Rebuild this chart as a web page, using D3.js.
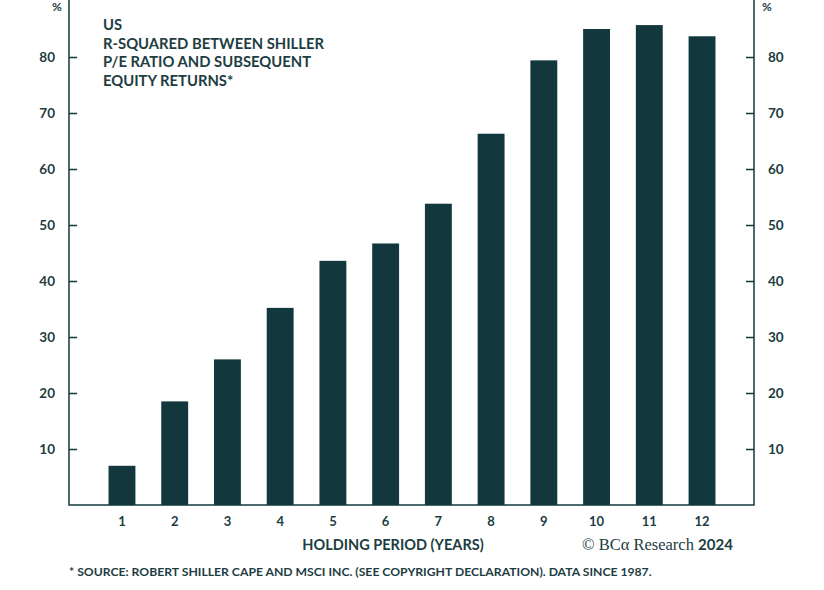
<!DOCTYPE html>
<html><head><meta charset="utf-8">
<script src="https://cdn.jsdelivr.net/npm/d3@7"></script>
<style>body{margin:0;background:#fff}text{font-family:Lato,"Open Sans",sans-serif;fill:#1d3d42}</style>
</head><body><div id="chart"></div>
<script>
// holding periods and r-squared values (%)
var periods = ["1","2","3","4","5","6","7","8","9","10","11","12"];
var rsq = [7, 18.5, 26, 35.2, 43.6, 46.7, 53.8, 66.3, 79.4, 85, 85.7, 83.7];
var yTicks = [10, 20, 30, 40, 50, 60, 70, 80];
var titleLines = ["US", "R-SQUARED BETWEEN SHILLER", "P/E RATIO AND SUBSEQUENT", "EQUITY RETURNS*"];

var w = 824, h = 590, dark = "#12383d";
var L = 69, R = 754, T = 0, B = 505;

var svg = d3.select("#chart").append("svg").attr("width", w).attr("height", h).style("background", "white");

var x = d3.scaleBand().domain(periods).range([95.6, 728.4]).paddingInner(0.49).paddingOuter(0.245);
var y = d3.scaleLinear().domain([0, 90]).range([B, T + 1]);

svg.selectAll("rect.bar").data(rsq).enter().append("rect")
    .attr("x", function (d, i) { return x(periods[i]); })
    .attr("width", x.bandwidth())
    .attr("y", function (d) { return y(d); })
    .attr("height", function (d) { return B - y(d); })
    .attr("fill", dark);

// frame
svg.append("rect").attr("x", L).attr("y", T - 2).attr("width", R - L).attr("height", B - T + 2)
    .attr("fill", "none").attr("stroke", dark).attr("stroke-width", 1.5);

var left = svg.append("g").attr("transform", "translate(" + L + ",0)")
    .call(d3.axisLeft(y).tickValues(yTicks).tickSize(-8).tickPadding(14));
var right = svg.append("g").attr("transform", "translate(" + R + ",0)")
    .call(d3.axisRight(y).tickValues(yTicks).tickSize(-8).tickPadding(14));
[left, right].forEach(function (g) {
    g.select(".domain").remove();
    g.selectAll("line").attr("stroke", dark).attr("stroke-width", 1.5);
    g.selectAll("text").style("font-size", "13.5px").style("font-weight", "bold").attr("fill", "#1d3d42");
});
svg.append("text").attr("x", 52).attr("y", 11).text("%").style("font-size", "12px").style("font-weight", "bold");
svg.append("text").attr("x", 762).attr("y", 11).text("%").style("font-size", "12px").style("font-weight", "bold");

svg.append("g").attr("transform", "translate(0," + B + ")")
    .call(d3.axisBottom(x).tickSize(0).tickPadding(12))
    .call(function (g) {
        g.select(".domain").remove();
        g.selectAll("text").style("font-size", "13px").style("font-weight", "bold").attr("fill", "#1d3d42");
    });

titleLines.forEach(function (t, i) {
    svg.append("text").attr("x", 103).attr("y", 30 + i * 18.5).text(t)
        .style("font-size", "14.8px").style("font-weight", "bold");
});

svg.append("text").attr("x", 393).attr("y", 550).attr("text-anchor", "middle")
    .text("HOLDING PERIOD (YEARS)").style("font-size", "14.5px").style("font-weight", "bold");
svg.append("text").attr("x", 582).attr("y", 550)
    .html('<tspan style="font-family:\'Liberation Serif\',serif;font-size:16.5px">© BCα Research</tspan> <tspan style="font-weight:bold;font-size:15px">2024</tspan>');
svg.append("text").attr("x", 69).attr("y", 576)
    .text("* SOURCE: ROBERT SHILLER CAPE AND MSCI INC. (SEE COPYRIGHT DECLARATION). DATA SINCE 1987.")
    .style("font-size", "12.2px").style("font-weight", "bold");
</script></body></html>
